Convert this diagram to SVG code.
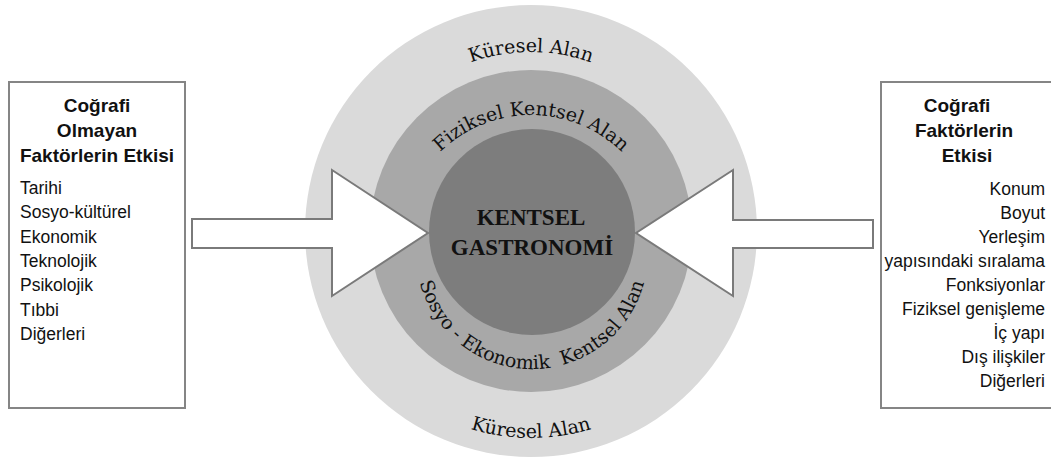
<svg xmlns="http://www.w3.org/2000/svg" width="1051" height="459" viewBox="0 0 1051 459">
  <style>
    .box { fill: #ffffff; stroke: #858585; stroke-width: 2; }
    .ttl { font-family: "Liberation Sans", Arial, sans-serif; font-weight: bold; font-size: 19px; fill: #111; text-anchor: middle; }
    .itm { font-family: "Liberation Sans", Arial, sans-serif; font-size: 17.5px; fill: #111; }
    .arc { font-family: "DejaVu Serif", serif; font-size: 19px; fill: #111; }
    .core { font-family: "Liberation Serif", "Times New Roman", serif; font-weight: bold; font-size: 23px; fill: #111; text-anchor: middle; }
    .arrow { fill: #ffffff; stroke: #7a7a7a; stroke-width: 2; stroke-linejoin: miter; }
  </style>
  <defs>
    <path id="pTopGlobal" d="M 352,231 A 179 179 0 0 1 710,231"/>
    <path id="pTopPhys" d="M 401,245 A 130 130 0 0 1 661,245"/>
    <path id="pBotSocio" d="M 416,253 A 116 116 0 0 0 648,253"/>
    <path id="pBotGlobal" d="M 324,231 A 207 207 0 0 0 738,231"/>
  </defs>
  <rect width="1051" height="459" fill="#ffffff"/>

  <g id="zones">
    <circle id="global" cx="531" cy="231" r="226" fill="#dadada"/>
    <circle id="physical-socio" cx="531" cy="231" r="161" fill="#a8a8a8"/>
    <circle id="core" cx="532" cy="232" r="103" fill="#7d7d7d"/>
    <text class="arc"><textPath href="#pTopGlobal" startOffset="50%" text-anchor="middle">Küresel Alan</textPath></text>
    <text class="arc"><textPath href="#pTopPhys" startOffset="50%" text-anchor="middle">Fiziksel Kentsel Alan</textPath></text>
    <text class="arc" xml:space="preserve"><textPath href="#pBotSocio" startOffset="50%" text-anchor="middle">Sosyo - Ekonomik  Kentsel Alan</textPath></text>
    <text class="arc"><textPath href="#pBotGlobal" startOffset="50%" text-anchor="middle">Küresel Alan</textPath></text>
  </g>

  <g id="connectors">
    <polygon class="arrow" points="192,219 332,219 332,170 428,233 332,296 332,248 192,248"/>
    <polygon class="arrow" points="873,220 733,220 733,170 636,233 733,296 733,248 873,248"/>
  </g>

  <g id="center-label">
    <text class="core" x="531" y="225">KENTSEL</text>
    <text class="core" x="532" y="255">GASTRONOMİ</text>
  </g>

  <g id="left-box">
    <rect class="box" x="9" y="82" width="176" height="326"/>
    <text class="ttl" x="97" y="112">Coğrafi</text>
    <text class="ttl" x="97" y="137">Olmayan</text>
    <text class="ttl" x="97" y="162">Faktörlerin Etkisi</text>
    <text class="itm" x="20" y="194">Tarihi</text>
    <text class="itm" x="20" y="218.3">Sosyo-kültürel</text>
    <text class="itm" x="20" y="242.6">Ekonomik</text>
    <text class="itm" x="20" y="266.9">Teknolojik</text>
    <text class="itm" x="20" y="291.2">Psikolojik</text>
    <text class="itm" x="20" y="315.5">Tıbbi</text>
    <text class="itm" x="20" y="339.8">Diğerleri</text>
  </g>

  <g id="right-box">
    <rect class="box" x="881" y="82" width="180" height="326"/>
    <text class="ttl" x="957" y="112">Coğrafi</text>
    <text class="ttl" x="964" y="137">Faktörlerin</text>
    <text class="ttl" x="967" y="162">Etkisi</text>
    <g class="itm" text-anchor="end">
      <text x="1045" y="195">Konum</text>
      <text x="1045" y="219">Boyut</text>
      <text x="1045" y="243">Yerleşim</text>
      <text x="1045" y="267">yapısındaki sıralama</text>
      <text x="1045" y="291">Fonksiyonlar</text>
      <text x="1045" y="315">Fiziksel genişleme</text>
      <text x="1045" y="339">İç yapı</text>
      <text x="1045" y="363">Dış ilişkiler</text>
      <text x="1045" y="387">Diğerleri</text>
    </g>
  </g>
</svg>
